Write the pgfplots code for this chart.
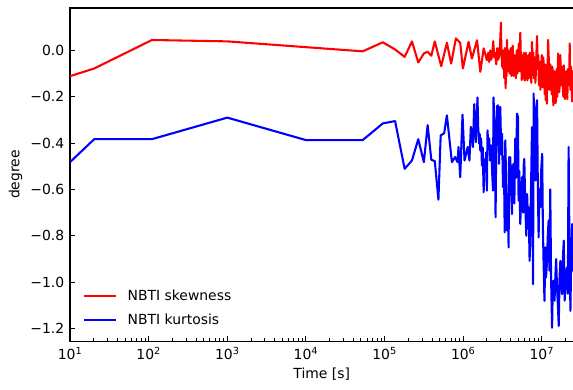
\documentclass[border=0pt]{standalone}
\usepackage{fontspec}
\setmainfont{DejaVu Sans}
\usepackage{pgfplots}
\pgfplotsset{compat=1.18}
\begin{document}
\begin{tikzpicture}[font=\fontsize{13.9pt}{16pt}\selectfont]
\begin{axis}[
  at={(0,0)}, anchor=south west,
  scale only axis, width=503pt, height=333pt,
  xmode=log, xmin=10, xmax=2.52e7, ymin=-1.255, ymax=0.183,
  axis line style={black, line width=1.1pt},
  tick align=inside, tick pos=left,
  major tick length=4.86pt, minor tick length=2.78pt,
  every tick/.style={black, line width=1.1pt},
  every minor tick/.style={black, line width=0.83pt},
  xtick={10,100,1000,10000,100000,1000000,10000000},
  xticklabels={10\textsuperscript{1},10\textsuperscript{2},10\textsuperscript{3},10\textsuperscript{4},10\textsuperscript{5},10\textsuperscript{6},10\textsuperscript{7}},
  minor xtick={20,30,40,50,60,70,80,90,200,300,400,500,600,700,800,900,2000,3000,4000,5000,6000,7000,8000,9000,2e4,3e4,4e4,5e4,6e4,7e4,8e4,9e4,2e5,3e5,4e5,5e5,6e5,7e5,8e5,9e5,2e6,3e6,4e6,5e6,6e6,7e6,8e6,9e6,2e7},
  ytick={-1.2,-1.0,-0.8,-0.6,-0.4,-0.2,0.0},
  yticklabels={−1.2,−1.0,−0.8,−0.6,−0.4,−0.2,0.0},
  xticklabel style={anchor=base, inner sep=0pt, yshift=-18pt},
  yticklabel style={anchor=east, inner sep=0pt, xshift=-5.7pt},
  xlabel={Time [s]},
  xlabel style={at={(axis description cs:0.5,-0.1126)}, anchor=base, inner sep=0pt},
  ylabel={degree},
  ylabel style={at={(axis description cs:-0.1083,0.5)}, anchor=center, inner sep=0pt},
  legend cell align=left,
  legend image code/.code={\draw[#1] (0pt,0pt) -- (32pt,0pt);},
  legend style={draw=none, fill=none, inner sep=0pt, outer sep=0pt,
    at={(axis description cs:0.02584,0.0450)}, anchor=south west,
    row sep=12pt, column sep=10.5pt,
    nodes={inner sep=0pt, outer sep=0pt}},
]
\addplot[red, line width=2.08pt, line join=round] table {
10 -0.111
20.3 -0.078
110 0.045
1000 0.039
10000 0.014
52700 -0.004
95000 0.035
136000 0.004
180000 -0.028
223000 0.039
268000 -0.052
316000 -0.013
353000 -0.006
393000 -0.023
435000 0.039
525000 -0.068
620000 0.033
703000 -0.057
807000 0.052
916000 0.033
991000 -0.078
1.17e6 0.037
1.29e6 -0.035
1.50e6 0.044
1.65e6 -0.092
1.82e6 0.009
2.00e6 -0.042
2.08e6 -0.01
2.14e6 -0.05
2.21e6 0.00
2.27e6 -0.04
2.34e6 -0.02
2.41e6 0.04
2.48e6 -0.03
2.56e6 -0.01
2.63e6 -0.06
2.71e6 0.01
2.79e6 -0.04
2.88e6 -0.02
2.96e6 0.05
3.02e6 0.12
3.05e6 0.02
3.09e6 -0.03
3.13e6 -0.07
3.18e6 0.00
3.23e6 -0.08
3.28e6 -0.02
3.33e6 -0.12
3.38e6 0.01
3.46e6 -0.163
3.53e6 -0.05
3.57e6 -0.11
3.61e6 0.045
3.65e6 -0.04
3.69e6 -0.07
3.75e6 0.00
3.80e6 -0.02
3.85e6 -0.09
3.91e6 -0.10
3.97e6 -0.03
4.03e6 0.01
4.09e6 -0.11
4.15e6 -0.06
4.21e6 -0.01
4.27e6 0.02
4.33e6 -0.11
4.40e6 -0.09
4.46e6 -0.02
4.53e6 -0.04
4.60e6 -0.07
4.67e6 -0.12
4.74e6 -0.03
4.81e6 0.00
4.88e6 -0.10
4.95e6 -0.08
5.02e6 -0.01
5.10e6 0.03
5.15e6 -0.09
5.21e6 -0.05
5.27e6 0.01
5.32e6 0.076
5.40e6 -0.02
5.48e6 -0.07
5.56e6 -0.128
5.65e6 -0.02
5.73e6 -0.06
5.81e6 -0.12
5.90e6 -0.01
5.98e6 -0.03
6.07e6 -0.13
6.17e6 -0.10
6.26e6 -0.01
6.35e6 -0.05
6.45e6 -0.08
6.54e6 -0.13
6.63e6 -0.04
6.73e6 -0.02
6.83e6 -0.12
6.93e6 -0.09
7.03e6 -0.01
7.14e6 -0.04
7.24e6 -0.10
7.35e6 -0.14
7.50e6 0.037
7.59e6 -0.02
7.68e6 -0.06
7.80e6 -0.01
7.91e6 -0.12
8.03e6 -0.07
8.15e6 -0.03
8.27e6 -0.14
8.39e6 -0.10
8.54e6 -0.01
8.69e6 0.062
8.80e6 -0.03
8.90e6 -0.08
9.03e6 -0.02
9.16e6 -0.15
9.30e6 -0.09
9.44e6 -0.05
9.58e6 -0.17
9.71e6 -0.12
9.85e6 -0.06
1.00e7 -0.02
1.015e7 -0.11
1.03e7 -0.16
1.045e7 -0.03
1.06e7 -0.08
1.075e7 -0.13
1.09e7 -0.19
1.105e7 -0.06
1.12e7 -0.215
1.13e7 -0.15
1.14e7 -0.10
1.15e7 -0.17
1.16e7 -0.23
1.18e7 -0.12
1.20e7 0.045
1.23e7 -0.05
1.245e7 -0.14
1.26e7 -0.17
1.28e7 -0.06
1.30e7 -0.08
1.32e7 -0.16
1.34e7 -0.19
1.36e7 -0.07
1.38e7 -0.10
1.40e7 -0.237
1.42e7 -0.21
1.44e7 -0.09
1.46e7 -0.12
1.48e7 -0.18
1.50e7 -0.228
1.515e7 -0.10
1.53e7 -0.14
1.55e7 -0.08
1.57e7 -0.20
1.59e7 -0.15
1.61e7 -0.013
1.64e7 -0.12
1.67e7 -0.18
1.695e7 -0.11
1.72e7 -0.02
1.745e7 -0.12
1.77e7 -0.15
1.795e7 -0.07
1.82e7 -0.08
1.85e7 -0.17
1.88e7 -0.20
1.905e7 -0.064
1.93e7 -0.11
1.96e7 -0.21
1.99e7 -0.19
2.02e7 -0.10
2.05e7 -0.09
2.08e7 -0.17
2.11e7 -0.21
2.145e7 -0.08
2.18e7 -0.12
2.22e7 -0.15
2.26e7 0.03
2.285e7 -0.10
2.31e7 -0.17
2.345e7 -0.07
2.38e7 -0.10
2.405e7 -0.18
2.43e7 -0.22
2.455e7 -0.09
2.48e7 -0.13
2.50e7 -0.20
2.52e7 -0.16
};
\addlegendentry{NBTI skewness}
\addplot[blue, line width=2.08pt, line join=round] table {
10 -0.482
20.3 -0.383
110 -0.383
1000 -0.290
10000 -0.387
52700 -0.387
95000 -0.315
136000 -0.305
180000 -0.511
223000 -0.475
268000 -0.383
316000 -0.482
353000 -0.322
393000 -0.472
435000 -0.478
484000 -0.644
517000 -0.367
573000 -0.357
620000 -0.280
718000 -0.482
791000 -0.460
846000 -0.482
871000 -0.417
916000 -0.547
980000 -0.277
1.04e6 -0.475
1.14e6 -0.417
1.20e6 -0.475
1.25e6 -0.330
1.33e6 -0.417
1.38e6 -0.232
1.42e6 -0.35
1.45e6 -0.396
1.48e6 -0.30
1.52e6 -0.203
1.55e6 -0.33
1.60e6 -0.403
1.62e6 -0.36
1.65e6 -0.432
1.69e6 -0.38
1.73e6 -0.497
1.77e6 -0.42
1.82e6 -0.612
1.87e6 -0.47
1.92e6 -0.504
1.96e6 -0.44
2.00e6 -0.605
2.04e6 -0.345
2.08e6 -0.42
2.14e6 -0.38
2.21e6 -0.475
2.27e6 -0.41
2.33e6 -0.52
2.39e6 -0.605
2.43e6 -0.203
2.48e6 -0.30
2.53e6 -0.45
2.58e6 -0.720
2.63e6 -0.40
2.69e6 -0.241
2.77e6 -0.237
2.85e6 -0.489
2.90e6 -0.35
2.96e6 -0.244
3.05e6 -0.45
3.12e6 -0.36
3.21e6 -0.590
3.29e6 -0.46
3.37e6 -0.785
3.43e6 -0.388
3.51e6 -0.55
3.61e6 -0.778
3.67e6 -0.62
3.78e6 -0.850
3.83e6 -0.46
3.91e6 -0.60
3.97e6 -0.461
4.08e6 -0.62
4.17e6 -0.706
4.27e6 -0.50
4.38e6 -0.489
4.47e6 -0.66
4.59e6 -0.381
4.70e6 -0.55
4.83e6 -0.273
4.97e6 -0.287
5.06e6 -0.648
5.16e6 -0.52
5.32e6 -0.749
5.48e6 -0.60
5.60e6 -0.547
5.77e6 -0.70
5.87e6 -0.50
5.98e6 -0.468
6.17e6 -0.68
6.35e6 -0.800
6.50e6 -0.62
6.64e6 -0.72
6.79e6 -0.677
6.99e6 -0.908
7.14e6 -0.78
7.30e6 -0.58
7.50e6 -0.331
7.61e6 -0.70
7.73e6 -1.009
7.87e6 -0.186
8.03e6 -0.45
8.26e6 -0.561
8.46e6 -0.25
8.69e6 -0.215
8.90e6 -0.60
9.10e6 -0.807
9.29e6 -0.60
9.57e6 -0.677
9.80e6 -0.52
1.01e7 -0.446
1.03e7 -0.75
1.05e7 -0.90
1.08e7 -1.081
1.11e7 -0.850
1.13e7 -0.98
1.16e7 -0.922
1.19e7 -0.80
1.22e7 -0.734
1.25e7 -0.95
1.28e7 -0.600
1.31e7 -0.98
1.35e7 -1.197
1.38e7 -1.00
1.41e7 -0.994
1.45e7 -1.08
1.49e7 -0.965
1.52e7 -0.90
1.56e7 -1.023
1.60e7 -1.10
1.64e7 -1.189
1.68e7 -0.98
1.72e7 -0.908
1.76e7 -1.00
1.81e7 -1.052
1.85e7 -0.90
1.90e7 -0.821
1.95e7 -1.08
1.99e7 -1.023
2.04e7 -0.95
2.09e7 -0.936
2.14e7 -1.05
2.19e7 -0.417
2.24e7 -0.80
2.31e7 -1.124
2.36e7 -0.90
2.43e7 -0.749
2.47e7 -0.95
2.52e7 -0.879
};
\addlegendentry{NBTI kurtosis}
\end{axis}
\pgfresetboundingbox
\path (-70pt,-48pt) rectangle (502.6pt,341pt);
\end{tikzpicture}
\end{document}
